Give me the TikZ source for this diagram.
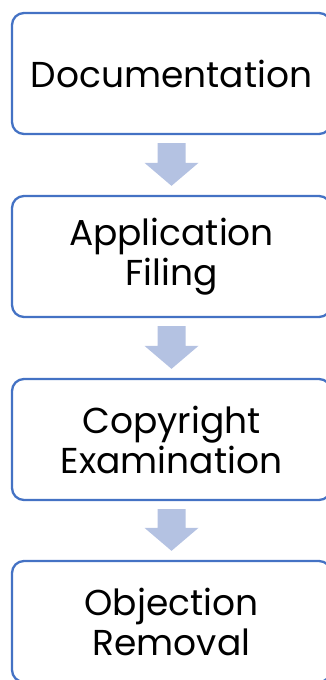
\documentclass[tikz,border=0pt]{standalone}
\usepackage{fontspec}
\setmainfont{Poppins}
\usetikzlibrary{calc}
\definecolor{boxblue}{RGB}{68,114,196}
\definecolor{arrowfill}{RGB}{180,194,226}
\begin{document}
\begin{tikzpicture}[x=1pt,y=1pt,
  stepbox/.style={draw=boxblue, line width=2.3pt, fill=white, rounded corners=12pt,
    minimum width=319pt, minimum height=121pt, align=center, inner sep=0pt,
    font=\fontsize{36}{40}\selectfont, text=black}]
\useasboundingbox (0,0) rectangle (325,-680);
\node[stepbox] (b1) at (171.5,-73.5) {Documentation};
\node[stepbox] (b2) at (171.5,-256.5) {Application\\Filing};
\node[stepbox] (b3) at (171.5,-439.5) {Copyright\\Examination};
\node[stepbox] (b4) at (171.5,-621.5) {Objection\\Removal};
\foreach \a/\b in {b1/b2,b2/b3,b3/b4}{
  \fill[arrowfill] ($(\a.south)+(-14,-8)$) -- ($(\a.south)+(14,-8)$)
    -- ($(\b.north)+(14,32)$) -- ($(\b.north)+(27,32)$)
    -- ($(\b.north)+(0,9)$) -- ($(\b.north)+(-27,32)$)
    -- ($(\b.north)+(-14,32)$) -- cycle;
}
\end{tikzpicture}
\end{document}
